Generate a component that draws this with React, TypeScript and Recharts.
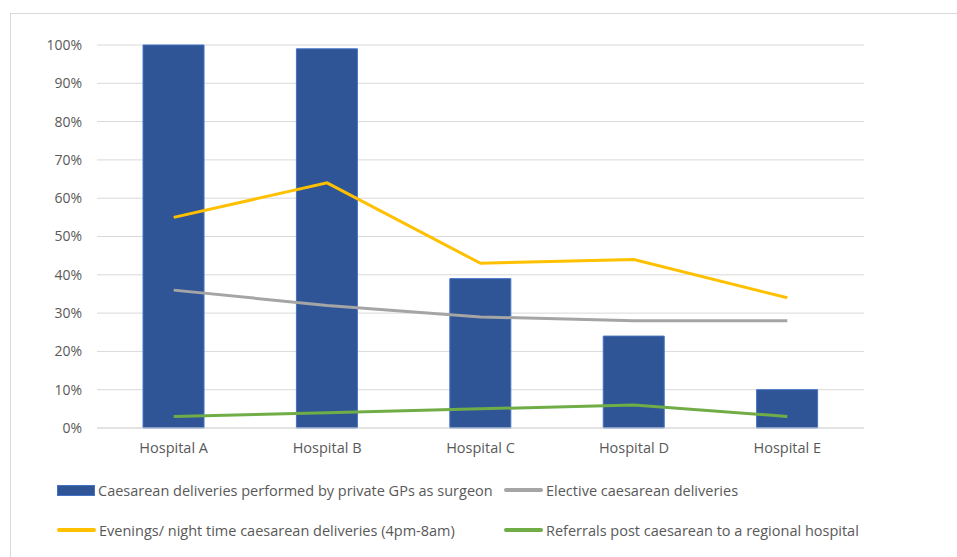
import { ComposedChart, Bar, Line, XAxis, YAxis, CartesianGrid } from 'recharts';

const hospitals = ['Hospital A', 'Hospital B', 'Hospital C', 'Hospital D', 'Hospital E'];
const privateGp = [100, 99, 39, 24, 10];
const elective = [36, 32, 29, 28, 28];
const nightTime = [55, 64, 43, 44, 34];
const referrals = [3, 4, 5, 6, 3];
const yTicks = [0, 10, 20, 30, 40, 50, 60, 70, 80, 90, 100];

const data = hospitals.map((name, i) => ({
  name,
  privateGp: privateGp[i],
  elective: elective[i],
  nightTime: nightTime[i],
  referrals: referrals[i],
}));

const FONT = '"Open Sans", sans-serif';
const TEXT = '#595959';

const legendItems = [
  { label: 'Caesarean deliveries performed by private GPs as surgeon', color: '#2F5597', bar: true, x: 57, y: 490 },
  { label: 'Elective caesarean deliveries', color: '#A5A5A5', bar: false, x: 504, y: 490 },
  { label: 'Evenings/ night time caesarean deliveries (4pm-8am)', color: '#FFC000', bar: false, x: 57, y: 530 },
  { label: 'Referrals post caesarean to a regional hospital', color: '#70AD47', bar: false, x: 504, y: 530 },
];

export default function App() {
  return (
    <div style={{ position: 'absolute', left: 0, top: 0, width: 957, height: 557, overflow: 'hidden', background: '#fff', fontFamily: FONT }}>
      <div style={{ position: 'absolute', left: 10, top: 13, width: 1000, height: 600, border: '1px solid #d9d9d9' }} />
      <div style={{ position: 'absolute', left: 0, top: 0 }}>
        <ComposedChart
          width={957}
          height={557}
          data={data}
          margin={{ top: 45, right: 93, bottom: 99, left: 0 }}
          barCategoryGap="30%"
        >
          <CartesianGrid vertical={false} stroke="#d9d9d9" strokeWidth={1} />
          <XAxis
            dataKey="name"
            height={30}
            axisLine={{ stroke: '#d9d9d9' }}
            tickLine={false}
            tickMargin={9}
            tick={{ fill: TEXT, fontSize: 14.5, fontFamily: FONT }}
          />
          <YAxis
            width={97}
            domain={[0, 100]}
            ticks={yTicks}
            interval={0}
            axisLine={false}
            tickLine={false}
            tickMargin={9}
            tickFormatter={(v) => `${v}%`}
            tick={{ fill: TEXT, fontSize: 14, fontFamily: FONT }}
          />
          <Bar dataKey="privateGp" fill="#2F5597" stroke="#4472C4" strokeWidth={1} isAnimationActive={false} />
          <Line type="linear" dataKey="elective" stroke="#A5A5A5" strokeWidth={3} dot={false} isAnimationActive={false} />
          <Line type="linear" dataKey="nightTime" stroke="#FFC000" strokeWidth={3} dot={false} isAnimationActive={false} />
          <Line type="linear" dataKey="referrals" stroke="#70AD47" strokeWidth={3} dot={false} isAnimationActive={false} />
        </ComposedChart>
      </div>
      {legendItems.map((item) => (
        <div
          key={item.label}
          style={{ position: 'absolute', left: item.x, top: item.y - 10, height: 20, display: 'flex', alignItems: 'center', fontSize: 14.5, color: TEXT, whiteSpace: 'nowrap' }}
        >
          {item.bar ? (
            <span style={{ width: 36, height: 9, background: item.color, border: '1px solid #4472C4', marginRight: 3 }} />
          ) : (
            <span style={{ width: 39, height: 3.5, borderRadius: 2, background: item.color, marginRight: 3 }} />
          )}
          <span>{item.label}</span>
        </div>
      ))}
    </div>
  );
}
